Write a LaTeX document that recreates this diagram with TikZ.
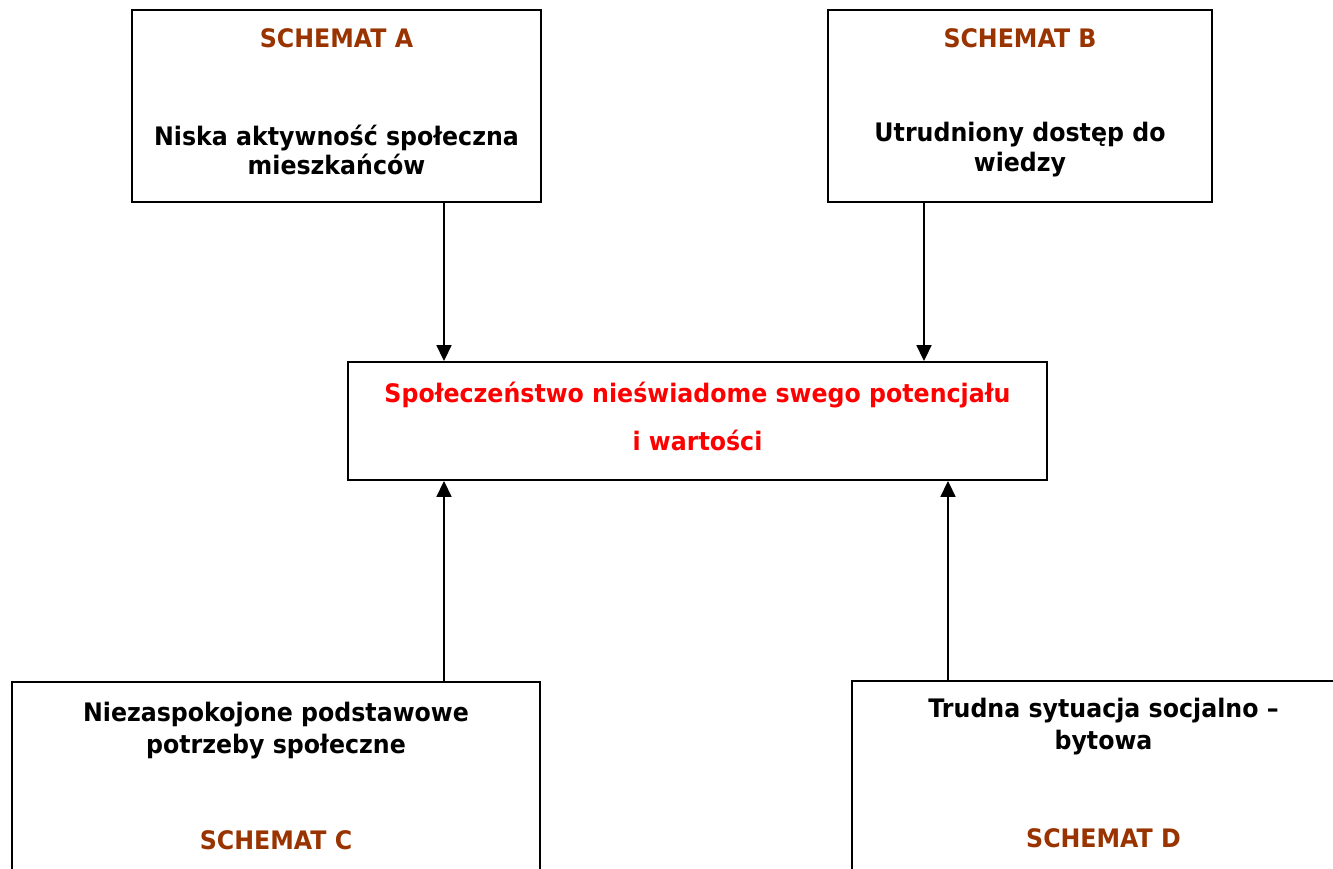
\documentclass[tikz,border=0pt]{standalone}
\usepackage{fontspec}
\setmainfont{DejaVu Sans}[FakeStretch=0.93]
\usepackage{xcolor}
\usetikzlibrary{positioning,calc,arrows.meta}
\definecolor{schematbrown}{HTML}{993300}

\begin{document}
\begin{tikzpicture}[x=0.02cm,y=-0.02cm,
    box/.style={draw, line width=1.1pt, inner sep=0pt},
    title/.style={font=\fontsize{14.5}{17}\selectfont\bfseries, text=schematbrown},
    body/.style={font=\fontsize{14.5}{17}\selectfont\bfseries, align=center},
    arr/.style={line width=0.85pt, -{Triangle[length=9pt,width=8.5pt]}}]
    \useasboundingbox (0,0) rectangle (1333,869);
    \clip (0,0) rectangle (1333,869);

    % Top
    \node[box, minimum width=409*0.02cm, minimum height=192*0.02cm] (boxA) at (336.5,106) {};
    \node[title] (titleA) at (336.5,38) {SCHEMAT A};
    \node[body] (textA) at (336.5,150) {Niska aktywność społeczna\\mieszkańców};

    \node[box, minimum width=384*0.02cm, minimum height=192*0.02cm] (boxB) at (1020,106) {};
    \node[title] (titleB) at (1020,38) {SCHEMAT B};
    \node[body] (textB) at (1020,150) {Utrudniony dostęp do\\wiedzy};

    % Middle
    \node[box, minimum width=699*0.02cm, minimum height=118*0.02cm] (mid) at (697.5,421) {};
    \node[body, text=red, font=\fontsize{14.5}{27.3}\selectfont\bfseries] (midtext) at (697.5,416)
        {Społeczeństwo nieświadome swego potencjału\\i wartości};

    % Bottom
    \node[box, minimum width=528*0.02cm, minimum height=220*0.02cm] (boxC) at (276,792) {};
    \node[body, font=\fontsize{14.5}{18.2}\selectfont\bfseries] (textC) at (276,731) {Niezaspokojone podstawowe\\potrzeby społeczne};
    \node[title] (titleC) at (276,840) {SCHEMAT C};

    \node[box, minimum width=503*0.02cm, minimum height=220*0.02cm] (boxD) at (1103.5,791) {};
    \node[body, font=\fontsize{14.5}{18.2}\selectfont\bfseries] (textD) at (1103.5,727) {Trudna sytuacja socjalno –\\bytowa};
    \node[title] (titleD) at (1103.5,838) {SCHEMAT D};

    % Arrows
    \coordinate (xl) at (444,0);
    \coordinate (xr) at (924,0);
    \coordinate (xd) at (948,0);
    \draw[arr] (boxA.south -| xl) -- (mid.north -| xl);
    \draw[arr] (boxB.south -| xr) -- (mid.north -| xr);
    \draw[arr] (boxC.north -| xl) -- (mid.south -| xl);
    \draw[arr] (boxD.north -| xd) -- (mid.south -| xd);
\end{tikzpicture}
\end{document}
